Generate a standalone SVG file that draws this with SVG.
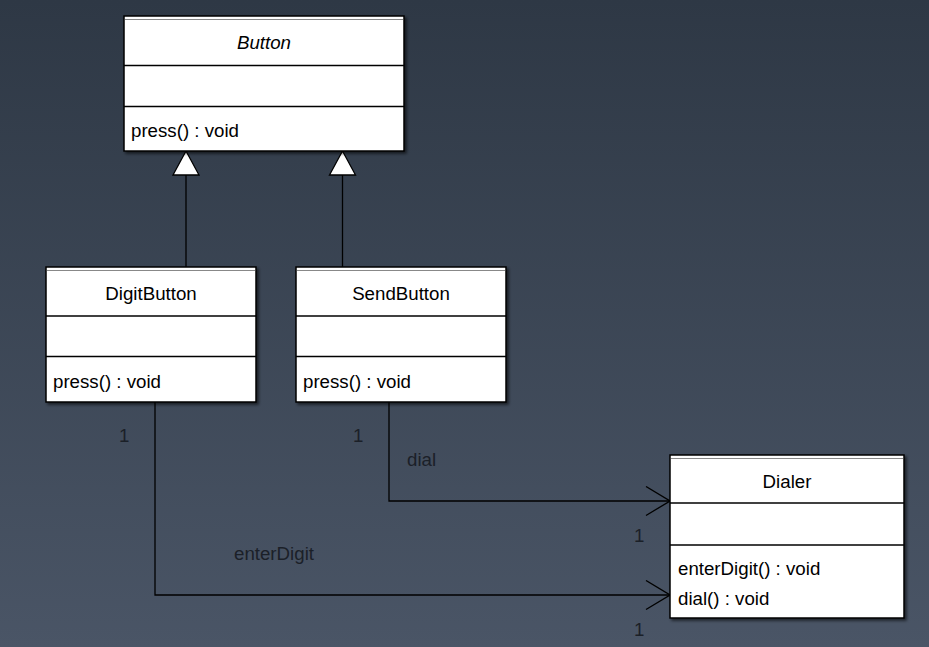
<svg xmlns="http://www.w3.org/2000/svg" width="929" height="647" viewBox="0 0 929 647">
<defs>
<linearGradient id="bg" x1="0" y1="0" x2="0" y2="1">
<stop offset="0" stop-color="#2e3845"/>
<stop offset="1" stop-color="#4a5566"/>
</linearGradient>
<filter id="sh" x="-5%" y="-5%" width="115%" height="115%">
<feDropShadow dx="2" dy="2" stdDeviation="1.5" flood-color="#000" flood-opacity="0.6"/>
</filter>
<marker id="open" markerWidth="26" markerHeight="32" refX="25" refY="15.5" orient="auto" markerUnits="userSpaceOnUse">
<path d="M1,1 L25,15.5 L1,30" fill="none" stroke="#000" stroke-width="1.3"/>
</marker>
</defs>
<style>
.box{fill:#fff;stroke:#000;stroke-width:1.5}
.dbl{stroke:#888;stroke-width:1}
.sep{stroke:#000;stroke-width:1.5}
.t{font-family:"Liberation Sans",Arial,sans-serif;font-size:18.7px;fill:#000}
.c{text-anchor:middle}
.i{font-style:italic}
.lbl{font-family:"Liberation Sans",Arial,sans-serif;font-size:18.7px;fill:#1b2028}
.ln{fill:none;stroke:#000;stroke-width:1.3}
.tri{fill:#fff;stroke:#000;stroke-width:1.3}
</style>
<rect width="929" height="647" fill="url(#bg)"/>

<g id="connectors">
<line class="ln" x1="186" y1="174" x2="186" y2="267"/>
<polygon class="tri" points="186,151 173,175 199,175"/>
<line class="ln" x1="342.5" y1="174" x2="342.5" y2="267"/>
<polygon class="tri" points="342.5,151 329.5,175 355.5,175"/>
<polyline class="ln" points="389,402 389,501 670,501" marker-end="url(#open)"/>
<polyline class="ln" points="155,402 155,595 670,595" marker-end="url(#open)"/>
<text class="lbl" x="119" y="442">1</text>
<text class="lbl" x="353" y="442">1</text>
<text class="lbl" x="407" y="466">dial</text>
<text class="lbl" x="234" y="560">enterDigit</text>
<text class="lbl" x="634" y="542">1</text>
<text class="lbl" x="634" y="636">1</text>
</g>

<g id="Button">
<rect class="box" x="124" y="16" width="280" height="135" filter="url(#sh)"/>
<line class="dbl" x1="125" y1="19.5" x2="403" y2="19.5"/>
<line class="sep" x1="124" y1="65.5" x2="404" y2="65.5"/>
<line class="sep" x1="124" y1="106.5" x2="404" y2="106.5"/>
<text class="t c i" x="264" y="49">Button</text>
<text class="t" x="131" y="137">press() : void</text>
</g>

<g id="DigitButton">
<rect class="box" x="46" y="267" width="210" height="135" filter="url(#sh)"/>
<line class="dbl" x1="47" y1="270.5" x2="255" y2="270.5"/>
<line class="sep" x1="46" y1="316" x2="256" y2="316"/>
<line class="sep" x1="46" y1="356.5" x2="256" y2="356.5"/>
<text class="t c" x="151" y="300">DigitButton</text>
<text class="t" x="53" y="388">press() : void</text>
</g>

<g id="SendButton">
<rect class="box" x="296" y="267" width="210" height="135" filter="url(#sh)"/>
<line class="dbl" x1="297" y1="270.5" x2="505" y2="270.5"/>
<line class="sep" x1="296" y1="316" x2="506" y2="316"/>
<line class="sep" x1="296" y1="356.5" x2="506" y2="356.5"/>
<text class="t c" x="401" y="300">SendButton</text>
<text class="t" x="303" y="388">press() : void</text>
</g>

<g id="Dialer">
<rect class="box" x="670" y="455" width="234" height="163" filter="url(#sh)"/>
<line class="dbl" x1="671" y1="458.5" x2="903" y2="458.5"/>
<line class="sep" x1="670" y1="503" x2="904" y2="503"/>
<line class="sep" x1="670" y1="545" x2="904" y2="545"/>
<text class="t c" x="787" y="488">Dialer</text>
<text class="t" x="678" y="575">enterDigit() : void</text>
<text class="t" x="678" y="605">dial() : void</text>
</g>
</svg>
